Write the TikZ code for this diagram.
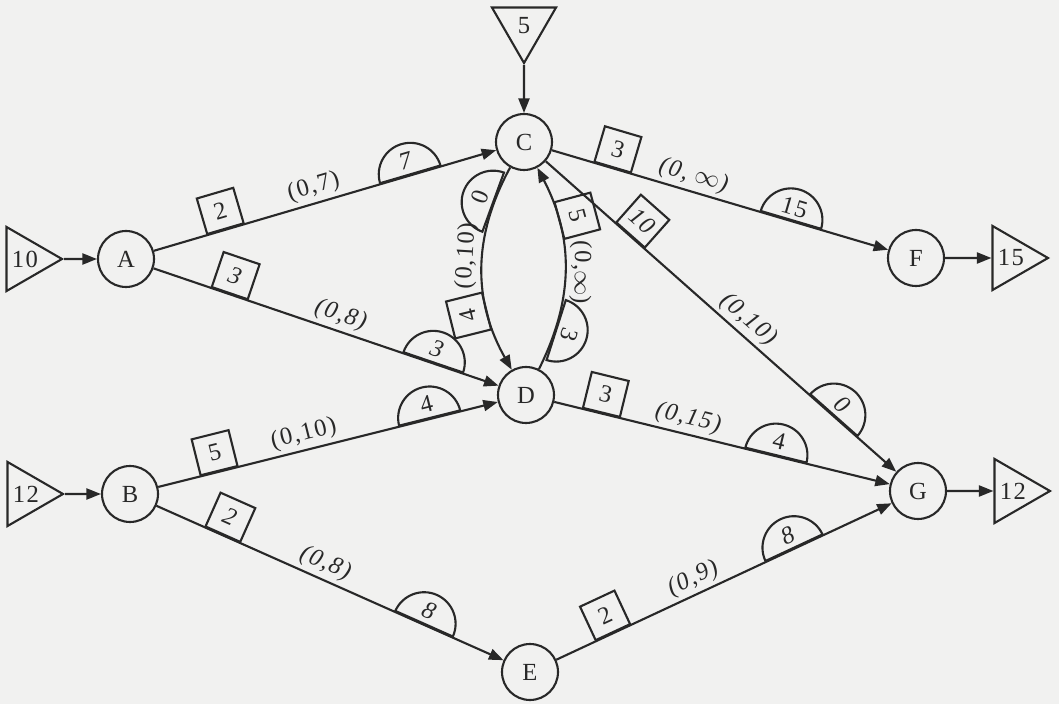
\documentclass[tikz,border=0pt]{standalone}
\usepackage{fontspec}
\setmainfont[LetterSpace=6]{Liberation Serif}
\usepackage{xcolor}
\usetikzlibrary{arrows.meta, shapes.geometric, positioning}
\definecolor{paper}{RGB}{241,241,240}
\definecolor{ink}{RGB}{40,40,40}

\begin{document}
\begin{tikzpicture}[x=0.02cm,y=0.02cm,color=ink,
   font=\fontsize{14}{16}\selectfont,
   >={Triangle[length=2.9mm,width=2.2mm]}]
 \tikzstyle{vertex}=[circle,draw,very thick,minimum size=1.12cm,inner sep=0pt]
 \tikzstyle{supply}=[regular polygon,regular polygon sides=3,draw,very thick,
   minimum size=1.48cm,inner sep=0pt,shape border rotate=-90]
 \tikzstyle{cost}=[rectangle,draw,very thick,minimum width=.76cm,
   minimum height=.74cm,inner sep=1pt,sloped,anchor=south]
 \tikzstyle{flow}=[semicircle,draw,very thick,minimum width=1.26cm,
   minimum height=.63cm,inner sep=1pt,sloped,anchor=chord center]
 \tikzstyle{bound}=[sloped,above,inner sep=2pt]
 \useasboundingbox (0,0) rectangle (1059,704);
 \fill[paper] (0,0) rectangle (1059,704);
 \node (A) [vertex] at (126,445) {A};
 \node (B) [vertex] at (130,210) {B};
 \node (C) [vertex] at (524,562) {C};
 \node (D) [vertex] at (526,309) {D};
 \node (E) [vertex] at (530,32) {E};
 \node (F) [vertex] at (916,446) {F};
 \node (G) [vertex] at (918,213) {G};
 \node (inA) [supply] at (25,445) {10};
 \node (inB) [supply] at (26,210) {12};
 \node (inC) [supply,shape border rotate=180] at (524,678) {5};
 \node (outF) [supply] at (1011,446) {15};
 \node (outG) [supply] at (1013,213) {12};
 \draw[->,very thick] (inA) -- (A);
 \draw[->,very thick] (inB) -- (B);
 \draw[->,very thick] (inC) -- (C);
 \draw[->,very thick] (F) -- (outF);
 \draw[->,very thick] (G) -- (outG);
 \draw[->,very thick] (A) -- node[cost,pos=.21]{2} node[bound,pos=.48]{(0,7)}
   node[flow,pos=.75]{\textit{7}} (C);
 \draw[->,very thick] (A) -- node[cost,pos=.22]{\textit{3}}
   node[bound,pos=.53]{\textit{(0,8)}} node[flow,pos=.81]{\textit{3}} (D);
 \draw[->,very thick] (B) -- node[cost,pos=.18]{5} node[bound,pos=.44]{(0,10)}
   node[flow,pos=.80]{4} (D);
 \draw[->,very thick] (B) -- node[cost,pos=.19]{\textit{2}}
   node[bound,pos=.47]{\textit{(0,8)}} node[flow,pos=.77]{\textit{8}} (E);
 \draw[->,very thick] (C) -- node[cost,pos=.18]{3}
   node[bound,pos=.41]{\textit{(0, $\infty$)}} node[flow,pos=.71]{15} (F);
 \draw[->,very thick] (C) -- node[cost,pos=.24]{\textit{10}}
   node[bound,pos=.55]{\textit{(0,10)}} node[flow,pos=.82]{\textit{0}} (G);
 \draw[->,very thick] (D) -- node[cost,pos=.14]{3}
   node[bound,pos=.39]{\textit{(0,15)}} node[flow,pos=.66]{4} (G);
 \draw[->,very thick] (E) -- node[cost,pos=.17]{2}
   node[bound,pos=.43]{\textit{(0,9)}} node[flow,pos=.71]{\textit{8}} (G);
 \draw[<-,very thick] (D) to[bend left=29]
   node[cost,allow upside down,pos=.29]{4}
   node[bound,allow upside down,pos=.56]{(0,10)}
   node[flow,allow upside down,pos=.83]{0} (C);
 \draw[<-,very thick] (C) to[bend left=27]
   node[cost,allow upside down,pos=.26]{5}
   node[bound,allow upside down,pos=.52]{(0,$\infty$)}
   node[flow,allow upside down,pos=.81]{3} (D);
\end{tikzpicture}
\end{document}
